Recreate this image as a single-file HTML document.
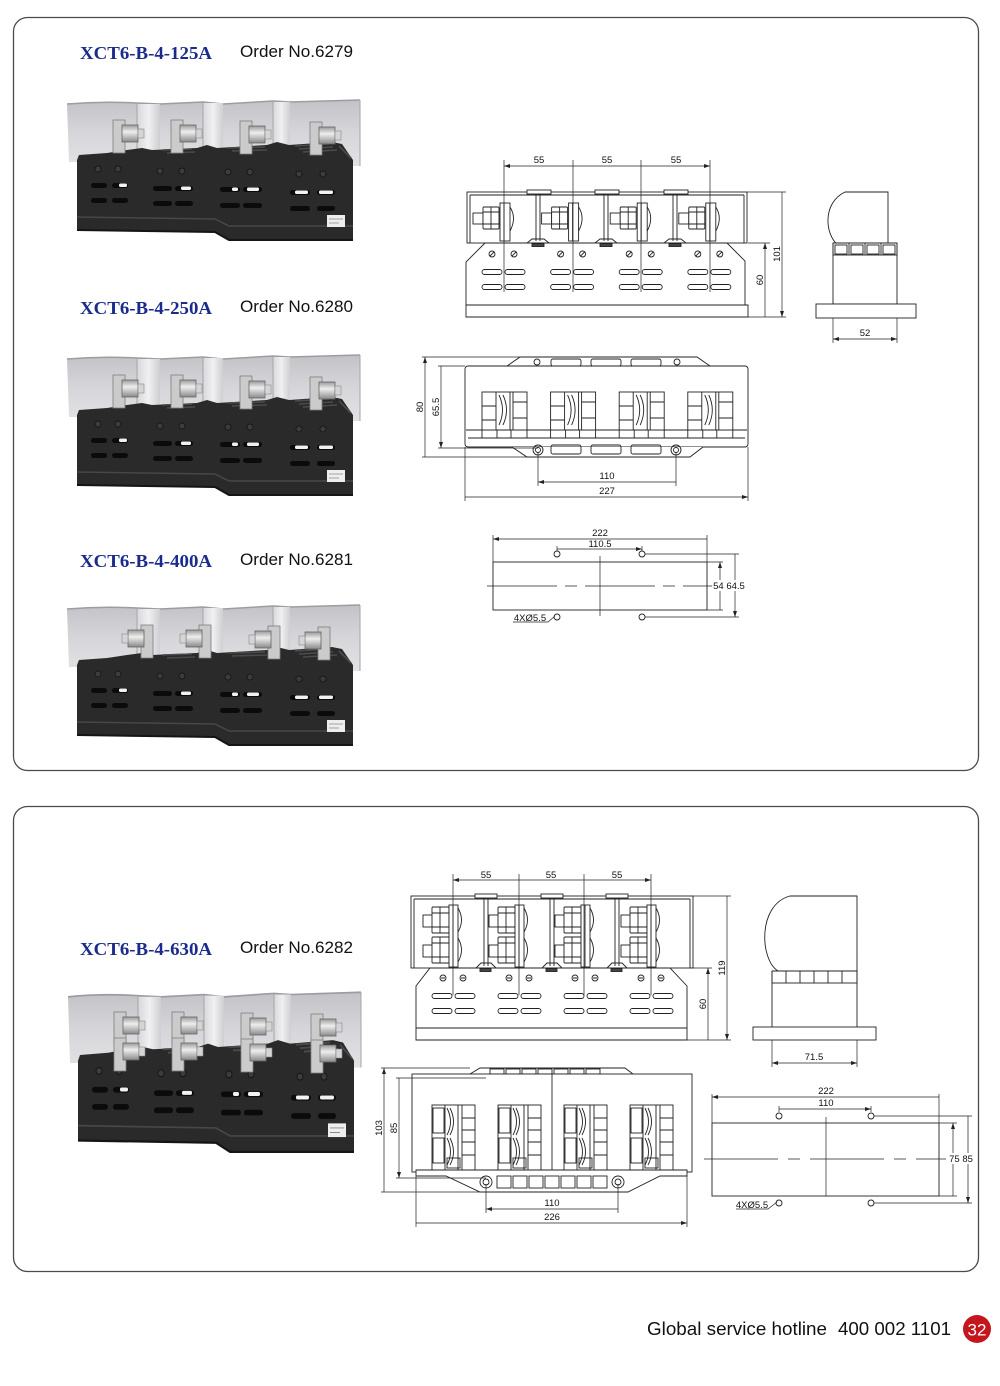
<!DOCTYPE html>
<html><head><meta charset="utf-8"><style>
html,body{margin:0;padding:0;background:#fff;}
svg{display:block;}
</style></head><body>
<svg xmlns="http://www.w3.org/2000/svg" xmlns:xlink="http://www.w3.org/1999/xlink" width="1000" height="1386" viewBox="0 0 1000 1386">
<defs>
<marker id="ar" viewBox="0 0 6 4" refX="6" refY="2" markerWidth="6" markerHeight="4" markerUnits="userSpaceOnUse" orient="auto-start-reverse"><path d="M0,0L6,2L0,4z" fill="#222"/></marker>
<linearGradient id="cg" x1="0" y1="0" x2="0" y2="1"><stop offset="0" stop-color="#c2c2c7"/><stop offset="0.5" stop-color="#d6d6da"/><stop offset="1" stop-color="#e2e2e5"/></linearGradient>
<linearGradient id="bg" x1="0" y1="0" x2="1" y2="0"><stop offset="0" stop-color="#d8d8db"/><stop offset="0.5" stop-color="#f0f0f2"/><stop offset="1" stop-color="#cfcfd3"/></linearGradient>
<linearGradient id="mg" x1="0" y1="0" x2="0" y2="1"><stop offset="0" stop-color="#9a9a9a"/><stop offset="0.4" stop-color="#eeeeee"/><stop offset="1" stop-color="#8a8a8a"/></linearGradient>

<!-- photo body (without bolts) -->
<g id="phb">
 <path d="M0,6 Q35,3 70,5 L93,6 L136,4 L156,6 L206,3 L223,4 L293,2 L293,68 L223,68 L206,62 L156,64 L136,60 L93,58 L70,64 L2,64 Z" fill="url(#cg)"/>
 <path d="M0,6 Q35,3 70,5 L93,6 L136,4 L156,6 L206,3 L223,4 L293,2" fill="none" stroke="#9c9ca2" stroke-width="1.5"/>
 <rect x="70" y="6" width="23" height="58" fill="url(#bg)"/>
 <rect x="136" y="5" width="20" height="58" fill="url(#bg)"/>
 <rect x="206" y="4" width="17" height="63" fill="url(#bg)"/>
 <path d="M70,6V64M136,5V62M206,4V66M293,2V68" stroke="#a5a5aa" stroke-width="1"/>
 <path d="M10,62 L12,57 L40,55 L60,52 L75,50 L85,52 L130,50 L140,47 L150,50 L200,47 L210,44 L222,47 L265,44 L275,46 L286,62 L286,142 L162,142 L148,134 L10,132 Z" fill="#2a2a2a"/>
 <path d="M95,52 L125,51 M100,55 L128,54 M160,50 L198,49 M165,53 L200,52 M228,48 L262,46 M232,51 L266,49 M236,54 L270,52 M272,48 L284,60" stroke="#4b4b4b" stroke-width="1.6"/>
 <path d="M10,119 L148,121 L162,128 L286,128" fill="none" stroke="#474747" stroke-width="1.5"/>
 <path d="M10,132 L148,134 L162,142 L286,142" fill="none" stroke="#151515" stroke-width="2"/>
 <g fill="#0b0b0b">
  <rect x="24" y="85" width="16" height="5" rx="2.5"/><rect x="45" y="85" width="16" height="5" rx="2.5"/>
  <rect x="24" y="100" width="16" height="5" rx="2.5"/><rect x="45" y="100" width="16" height="5" rx="2.5"/>
  <rect x="86" y="88" width="19" height="5" rx="2.5"/><rect x="108" y="88" width="18" height="5" rx="2.5"/>
  <rect x="86" y="103" width="19" height="5" rx="2.5"/><rect x="108" y="103" width="18" height="5" rx="2.5"/>
  <rect x="153" y="89" width="20" height="5" rx="2.5"/><rect x="176" y="89" width="19" height="5" rx="2.5"/>
  <rect x="153" y="105" width="20" height="5" rx="2.5"/><rect x="176" y="105" width="19" height="5" rx="2.5"/>
  <rect x="223" y="92" width="20" height="5" rx="2.5"/><rect x="250" y="92" width="18" height="5" rx="2.5"/>
  <rect x="223" y="108" width="20" height="5" rx="2.5"/><rect x="250" y="108" width="18" height="5" rx="2.5"/>
 </g>
 <g fill="#f2f2f2">
  <rect x="52" y="85.5" width="8" height="3.5" rx="1.5"/><rect x="114" y="88.5" width="10" height="3.5" rx="1.5"/>
  <rect x="165" y="89.5" width="6" height="3.5" rx="1.5"/><rect x="180" y="89.5" width="12" height="3.5" rx="1.5"/>
  <rect x="228" y="92.5" width="13" height="3.5" rx="1.5"/><rect x="252" y="92.5" width="14" height="3.5" rx="1.5"/>
 </g>
 <g fill="#3c3c3c" stroke="#111" stroke-width="0.8">
  <circle cx="31" cy="71" r="3"/><circle cx="51" cy="71" r="3"/>
  <circle cx="93" cy="73" r="3"/><circle cx="115" cy="73" r="3"/>
  <circle cx="161" cy="74" r="3"/><circle cx="183" cy="74" r="3"/>
  <circle cx="232" cy="76" r="3"/><circle cx="256" cy="76" r="3"/>
 </g>
 <rect x="260" y="117" width="18" height="12" fill="#eeeeee"/>
 <path d="M262,121H276M262,125H272" stroke="#888" stroke-width="0.8"/>
</g>

<g id="bt">
 <rect x="0" y="0" width="12" height="33" fill="#cbcbcb" stroke="#7e7e7e" stroke-width="0.8"/>
 <rect x="9" y="5" width="16" height="17" fill="url(#mg)" stroke="#666" stroke-width="0.8"/>
 <rect x="25" y="9" width="6" height="9" fill="#d5d5d5" stroke="#888" stroke-width="0.6"/>
</g>

<!-- front view unit 125A -->
<g id="fu">
 <rect x="473" y="213" width="10" height="11" fill="#fff"/>
 <rect x="483" y="207" width="16" height="22" rx="1" fill="#fff"/>
 <path d="M483,212H499M483,224H499M491,207V229"/>
 <rect x="500" y="203" width="10" height="38" fill="#fff"/>
 <path d="M504,203V241"/>
 <path d="M510,207Q517,218 510,231"/>
 <circle cx="492" cy="254" r="3"/><circle cx="514" cy="254" r="3"/>
 <path d="M490,256L494,252M512,256L516,252"/>
 <rect x="482" y="269.5" width="20" height="5" rx="2.5"/><rect x="505" y="269.5" width="20" height="5" rx="2.5"/>
 <rect x="482" y="284.5" width="20" height="5" rx="2.5"/><rect x="505" y="284.5" width="20" height="5" rx="2.5"/>
</g>

<!-- top view unit 250A -->
<g id="tu">
 <rect x="482" y="392" width="45" height="38" fill="#fff"/>
 <path d="M496,392V430M510,392V430M482,406H496M482,420H496M513,392V430M513,402H527M513,418H527"/>
 <path d="M499,395Q506,410 499,425M503,395Q510,410 503,425"/>
 <rect x="497" y="430" width="14" height="8"/>
 <path d="M482,430V438M527,430V438"/>
</g>

<!-- front view unit 630A -->
<g id="fu2">
 <rect x="423" y="915" width="10" height="12" fill="#fff"/>
 <rect x="423" y="945" width="10" height="12" fill="#fff"/>
 <rect x="432" y="907" width="17" height="26" rx="1" fill="#fff"/>
 <rect x="432" y="937" width="17" height="26" rx="1" fill="#fff"/>
 <path d="M432,913H449M432,927H449M432,943H449M432,957H449M440,907V933M440,937V963"/>
 <rect x="449" y="905" width="9" height="62" fill="#fff"/>
 <path d="M453,905V967"/>
 <path d="M458,908Q465,920 458,932M458,938Q465,950 458,962"/>
 <circle cx="443" cy="978" r="3"/><circle cx="463" cy="978" r="3"/>
 <path d="M441,978H445M461,978H465"/>
 <rect x="432" y="993.5" width="20" height="5" rx="2.5"/><rect x="455" y="993.5" width="20" height="5" rx="2.5"/>
 <rect x="432" y="1008.5" width="20" height="5" rx="2.5"/><rect x="455" y="1008.5" width="20" height="5" rx="2.5"/>
</g>

<!-- top view unit 630A -->
<g id="tu2">
 <rect x="432" y="1105" width="43" height="65" fill="#fff"/>
 <path d="M445,1105V1170M458,1105V1170M462,1105V1170"/>
 <rect x="433" y="1108" width="11" height="25"/><rect x="433" y="1138" width="11" height="25"/>
 <path d="M447,1108Q454,1122 447,1135M447,1138Q454,1152 447,1165M450,1108Q457,1122 450,1135M450,1138Q457,1152 450,1165"/>
 <path d="M462,1118H475M462,1130H475M462,1142H475M462,1155H475"/>
 <rect x="447" y="1158" width="13" height="10"/>
</g>
</defs>

<rect x="0" y="0" width="1000" height="1386" fill="#fff"/>

<!-- panels -->
<rect x="13.5" y="17.5" width="965" height="753" rx="14" fill="none" stroke="#4a4a4a" stroke-width="1.3"/>
<rect x="13.5" y="806.5" width="965" height="465" rx="14" fill="none" stroke="#4a4a4a" stroke-width="1.3"/>

<!-- titles -->
<g font-family="'Liberation Serif', serif" font-weight="bold" font-size="18" fill="#1b2b8c">
 <text x="80" y="59" textLength="132" lengthAdjust="spacingAndGlyphs">XCT6-B-4-125A</text>
 <text x="80" y="314" textLength="132" lengthAdjust="spacingAndGlyphs">XCT6-B-4-250A</text>
 <text x="80" y="567" textLength="132" lengthAdjust="spacingAndGlyphs">XCT6-B-4-400A</text>
 <text x="80" y="955" textLength="132" lengthAdjust="spacingAndGlyphs">XCT6-B-4-630A</text>
</g>
<g font-family="'Liberation Sans', sans-serif" font-size="17" fill="#111">
 <text x="240" y="57" textLength="113" lengthAdjust="spacingAndGlyphs">Order No.6279</text>
 <text x="240" y="312" textLength="113" lengthAdjust="spacingAndGlyphs">Order No.6280</text>
 <text x="240" y="565" textLength="113" lengthAdjust="spacingAndGlyphs">Order No.6281</text>
 <text x="240" y="953" textLength="113" lengthAdjust="spacingAndGlyphs">Order No.6282</text>
</g>

<!-- photos -->
<g transform="translate(67,98)"><use xlink:href="#phb"/>
 <use xlink:href="#bt" transform="translate(46,22)"/><use xlink:href="#bt" transform="translate(104,22)"/>
 <use xlink:href="#bt" transform="translate(173,23)"/><use xlink:href="#bt" transform="translate(243,24)"/></g>
<g transform="translate(67,353)"><use xlink:href="#phb"/>
 <use xlink:href="#bt" transform="translate(46,22)"/><use xlink:href="#bt" transform="translate(104,22)"/>
 <use xlink:href="#bt" transform="translate(173,23)"/><use xlink:href="#bt" transform="translate(243,24)"/></g>
<g transform="translate(67,603)"><use xlink:href="#phb"/>
 <use xlink:href="#bt" transform="translate(86,22) scale(-1,1)"/><use xlink:href="#bt" transform="translate(144,22) scale(-1,1)"/>
 <use xlink:href="#bt" transform="translate(213,23) scale(-1,1)"/><use xlink:href="#bt" transform="translate(263,24) scale(-1,1)"/></g>
<g transform="translate(68,990) scale(1,1.14)"><use xlink:href="#phb"/></g>
<g transform="translate(68,990)">
 <use xlink:href="#bt" transform="translate(46,22)"/><use xlink:href="#bt" transform="translate(46,48)"/>
 <use xlink:href="#bt" transform="translate(104,22)"/><use xlink:href="#bt" transform="translate(104,48)"/>
 <use xlink:href="#bt" transform="translate(173,23)"/><use xlink:href="#bt" transform="translate(173,49)"/>
 <use xlink:href="#bt" transform="translate(243,24)"/><use xlink:href="#bt" transform="translate(243,50)"/>
</g>

<!-- ===== drawings ===== -->
<g stroke="#222" stroke-width="0.9" fill="none">

<!-- 125A front view -->
<rect x="467" y="192" width="280" height="51" fill="#fff"/>
<path d="M470,195H744M470,195V243M744,195V243"/>
<use xlink:href="#fu"/><use xlink:href="#fu" transform="translate(68.6,0)"/><use xlink:href="#fu" transform="translate(137.2,0)"/><use xlink:href="#fu" transform="translate(205.8,0)"/>
<g>
 <rect x="527" y="190" width="24" height="4" fill="#fff"/><path d="M536,194V241M540,194V241"/>
 <rect x="595" y="190" width="24" height="4" fill="#fff"/><path d="M604,194V241M608,194V241"/>
 <rect x="664" y="190" width="24" height="4" fill="#fff"/><path d="M673,194V241M677,194V241"/>
</g>
<path d="M466,317H748V305H745V261L727,243H485L466,262V305Z"/>
<path d="M466,305H748"/>
<path d="M527,243L532,239H544L549,243M595,243L600,239H612L617,243M664,243L669,239H681L686,243"/>
<rect x="532" y="243.5" width="12" height="3" fill="#444"/><rect x="600" y="243.5" width="12" height="3" fill="#444"/><rect x="669" y="243.5" width="12" height="3" fill="#444"/>
<!-- 55 dims -->
<path d="M504,160V292M573,160V292M641,160V292M710,160V292" stroke-width="0.7"/>
<path d="M504,166H573M573,166H641M641,166H710" marker-start="url(#ar)" marker-end="url(#ar)" stroke-width="0.7"/>
<!-- right dims -->
<path d="M747,192H786M748,243H770M748,317H786" stroke-width="0.7"/>
<path d="M765,243V317M782,192V317" marker-start="url(#ar)" marker-end="url(#ar)" stroke-width="0.7"/>

<!-- 125A side view -->
<path d="M845,192H888V245H838C825,235 822,203 845,192Z" fill="#fff"/>
<rect x="833" y="243" width="64" height="61" fill="#fff"/>
<rect x="833" y="243" width="64" height="12"/>
<path d="M849,243V255M865,243V255M881,243V255"/>
<rect x="835" y="245" width="12" height="9"/><rect x="851" y="245" width="12" height="9"/><rect x="867" y="245" width="12" height="9"/><rect x="883" y="245" width="12" height="9"/>
<rect x="816" y="304" width="100" height="14" fill="#fff"/>
<path d="M833,318V343M897,318V343" stroke-width="0.7"/>
<path d="M833,339H897" marker-start="url(#ar)" marker-end="url(#ar)" stroke-width="0.7"/>

<!-- 250A top view -->
<path d="M507,366L520,357H697L710,366"/>
<rect x="551" y="359" width="30" height="7" rx="2"/><rect x="591" y="359" width="30" height="7" rx="2"/><rect x="631" y="359" width="30" height="7" rx="2"/>
<circle cx="537" cy="362" r="3"/><circle cx="677" cy="362" r="3"/>
<rect x="465" y="366" width="283" height="81" rx="3" fill="#fff"/>
<path d="M466,430H747M468,438H745"/>
<use xlink:href="#tu"/><use xlink:href="#tu" transform="translate(68.6,0)"/><use xlink:href="#tu" transform="translate(137.2,0)"/><use xlink:href="#tu" transform="translate(205.8,0)"/>
<path d="M468,447H512L527,457H690L703,447H745" fill="#fff"/>
<circle cx="538" cy="450" r="5"/><circle cx="538" cy="450" r="2.5"/><circle cx="676" cy="450" r="5"/><circle cx="676" cy="450" r="2.5"/>
<rect x="551" y="445" width="30" height="9" rx="2"/><rect x="591" y="445" width="30" height="9" rx="2"/><rect x="631" y="445" width="30" height="9" rx="2"/>
<path d="M422,357H520M422,457H527M438,366H465M438,448H538" stroke-width="0.7"/>
<path d="M425,357V457M441,366V448" marker-start="url(#ar)" marker-end="url(#ar)" stroke-width="0.7"/>
<path d="M538,452V486M676,452V486M465,447V501M748,447V501" stroke-width="0.7"/>
<path d="M538,482H676M465,497H748" marker-start="url(#ar)" marker-end="url(#ar)" stroke-width="0.7"/>

<!-- 400A mounting view -->
<rect x="493" y="562" width="214" height="48"/>
<circle cx="557" cy="554" r="3"/><circle cx="642" cy="554" r="3"/><circle cx="557" cy="617" r="3"/><circle cx="642" cy="617" r="3"/>
<path d="M487,586H718" stroke-dasharray="70,8,12,8" stroke-width="0.7"/>
<path d="M600,556V616" stroke-width="0.7"/>
<path d="M493,535V562M707,535V562M557,546V551M642,546V551" stroke-width="0.7"/>
<path d="M493,539H707M557,549H642" marker-start="url(#ar)" marker-end="url(#ar)" stroke-width="0.7"/>
<path d="M645,554H739M707,562H723M707,610H723M645,617H739" stroke-width="0.7"/>
<path d="M720,562V610M735,554V617" marker-start="url(#ar)" marker-end="url(#ar)" stroke-width="0.7"/>
<path d="M513,622H548L555,616" stroke-width="0.7"/>

<!-- 630A front view -->
<rect x="411" y="896" width="282" height="72" fill="#fff"/>
<path d="M414,899H690M414,899V968M690,899V968"/>
<use xlink:href="#fu2"/><use xlink:href="#fu2" transform="translate(66,0)"/><use xlink:href="#fu2" transform="translate(132,0)"/><use xlink:href="#fu2" transform="translate(198,0)"/>
<rect x="475" y="894" width="22" height="4" fill="#fff"/><path d="M484,898V966M488,898V966"/>
<rect x="541" y="894" width="22" height="4" fill="#fff"/><path d="M550,898V966M554,898V966"/>
<rect x="606" y="894" width="22" height="4" fill="#fff"/><path d="M615,898V966M619,898V966"/>
<path d="M416,1040H687V986L670,968H430L416,986Z"/>
<path d="M416,1028H687"/>
<path d="M476,968L481,963H491L496,968M542,968L547,963H557L562,968M607,968L612,963H622L627,968"/>
<rect x="480" y="968.5" width="11" height="3" fill="#444"/><rect x="546" y="968.5" width="11" height="3" fill="#444"/><rect x="611" y="968.5" width="11" height="3" fill="#444"/>
<path d="M453,874V995M519,874V995M584,874V995M651,874V995" stroke-width="0.7"/>
<path d="M453,880H519M519,880H584M584,880H651" marker-start="url(#ar)" marker-end="url(#ar)" stroke-width="0.7"/>
<path d="M693,896H731M690,968H712M687,1040H731" stroke-width="0.7"/>
<path d="M708,968V1040M727,896V1040" marker-start="url(#ar)" marker-end="url(#ar)" stroke-width="0.7"/>

<!-- 630A side view -->
<path d="M790,896H857V971H778C760,960 757,905 790,896Z" fill="#fff"/>
<rect x="772" y="971" width="85" height="57" fill="#fff"/>
<rect x="772" y="971" width="85" height="12"/>
<path d="M786,971V983M800,971V983M814,971V983M828,971V983M842,971V983"/>
<rect x="753" y="1027" width="123" height="13" fill="#fff"/>
<path d="M772,1040V1067M857,1040V1067" stroke-width="0.7"/>
<path d="M772,1063H857" marker-start="url(#ar)" marker-end="url(#ar)" stroke-width="0.7"/>

<!-- 630A top view -->
<path d="M470,1074L480,1068H625L633,1074"/>
<rect x="490" y="1069" width="14" height="5"/><rect x="506" y="1069" width="14" height="5"/><rect x="522" y="1069" width="14" height="5"/><rect x="538" y="1069" width="14" height="5"/><rect x="554" y="1069" width="14" height="5"/><rect x="570" y="1069" width="14" height="5"/><rect x="586" y="1069" width="14" height="5"/>
<rect x="412" y="1074" width="280" height="98" fill="#fff"/>
<path d="M552,1074V1172"/>
<use xlink:href="#tu2"/><use xlink:href="#tu2" transform="translate(66,0)"/><use xlink:href="#tu2" transform="translate(132,0)"/><use xlink:href="#tu2" transform="translate(198,0)"/>
<path d="M416,1170H687V1176H660L628,1192H480L446,1176H416Z" fill="#fff"/>
<path d="M416,1176H446M660,1176H687"/>
<circle cx="486" cy="1182" r="6"/><circle cx="486" cy="1182" r="3"/><circle cx="618" cy="1182" r="6"/><circle cx="618" cy="1182" r="3"/>
<rect x="497" y="1176" width="14" height="12"/><rect x="513" y="1176" width="14" height="12"/><rect x="529" y="1176" width="14" height="12"/><rect x="545" y="1176" width="14" height="12"/><rect x="561" y="1176" width="14" height="12"/><rect x="577" y="1176" width="14" height="12"/><rect x="593" y="1176" width="14" height="12"/>
<path d="M381,1068H470M381,1192H480M396,1078H486M396,1178H486" stroke-width="0.7"/>
<path d="M384,1068V1192M399,1078V1178" marker-start="url(#ar)" marker-end="url(#ar)" stroke-width="0.7"/>
<path d="M486,1184V1213M618,1184V1213M416,1176V1227M687,1176V1227" stroke-width="0.7"/>
<path d="M486,1209H618M416,1223H687" marker-start="url(#ar)" marker-end="url(#ar)" stroke-width="0.7"/>

<!-- 630A mounting view -->
<rect x="712" y="1123" width="227" height="73"/>
<circle cx="779" cy="1116" r="3"/><circle cx="871" cy="1116" r="3"/><circle cx="779" cy="1203" r="3"/><circle cx="871" cy="1203" r="3"/>
<path d="M704,1159H950" stroke-dasharray="74,10,12,10" stroke-width="0.7"/>
<path d="M826,1117V1196" stroke-width="0.7"/>
<path d="M712,1094V1123M939,1094V1123M779,1106V1112M871,1106V1112" stroke-width="0.7"/>
<path d="M712,1097H939M779,1109H871" marker-start="url(#ar)" marker-end="url(#ar)" stroke-width="0.7"/>
<path d="M874,1116H972M939,1123H957M939,1196H957M874,1203H972" stroke-width="0.7"/>
<path d="M953,1123V1196M968,1116V1203" marker-start="url(#ar)" marker-end="url(#ar)" stroke-width="0.7"/>
<path d="M736,1209H768L777,1202" stroke-width="0.7"/>
</g>

<!-- dimension labels -->
<g font-family="'Liberation Sans', sans-serif" font-size="9.5" fill="#111" text-anchor="middle">
 <text x="539" y="163">55</text><text x="607" y="163">55</text><text x="676" y="163">55</text>
 <text transform="translate(763,280) rotate(-90)">60</text>
 <text transform="translate(780,254) rotate(-90)">101</text>
 <text x="865" y="336">52</text>
 <text transform="translate(423,407) rotate(-90)">80</text>
 <text transform="translate(439,407) rotate(-90)">65.5</text>
 <text x="607" y="479">110</text>
 <text x="607" y="494">227</text>
 <text x="600" y="536">222</text>
 <text x="600" y="547">110.5</text>
 <rect x="712" y="580" width="35" height="11" fill="#fff"/>
 <text x="729" y="589">54 64.5</text>
 <text x="530" y="621">4XØ5.5</text>
 <text x="486" y="878">55</text><text x="551" y="878">55</text><text x="617" y="878">55</text>
 <text transform="translate(725,968) rotate(-90)">119</text>
 <text transform="translate(706,1004) rotate(-90)">60</text>
 <text x="814" y="1060">71.5</text>
 <text transform="translate(382,1128) rotate(-90)">103</text>
 <text transform="translate(397,1128) rotate(-90)">85</text>
 <text x="552" y="1206">110</text>
 <text x="552" y="1220">226</text>
 <text x="826" y="1094">222</text>
 <text x="826" y="1106">110</text>
 <rect x="946" y="1153" width="30" height="11" fill="#fff"/>
 <text x="961" y="1162">75 85</text>
 <text x="752" y="1208">4XØ5.5</text>
</g>

<!-- footer -->
<g font-family="'Liberation Sans', sans-serif" font-size="18" fill="#111">
 <text x="647" y="1335" textLength="180" lengthAdjust="spacingAndGlyphs">Global service hotline</text>
 <text x="838" y="1335" textLength="113" lengthAdjust="spacingAndGlyphs">400 002 1101</text>
</g>
<circle cx="977" cy="1329" r="14" fill="#c4161c"/>
<text x="977" y="1335.5" font-family="'Liberation Sans', sans-serif" font-size="17" fill="#fff" text-anchor="middle">32</text>
</svg>
</body></html>
